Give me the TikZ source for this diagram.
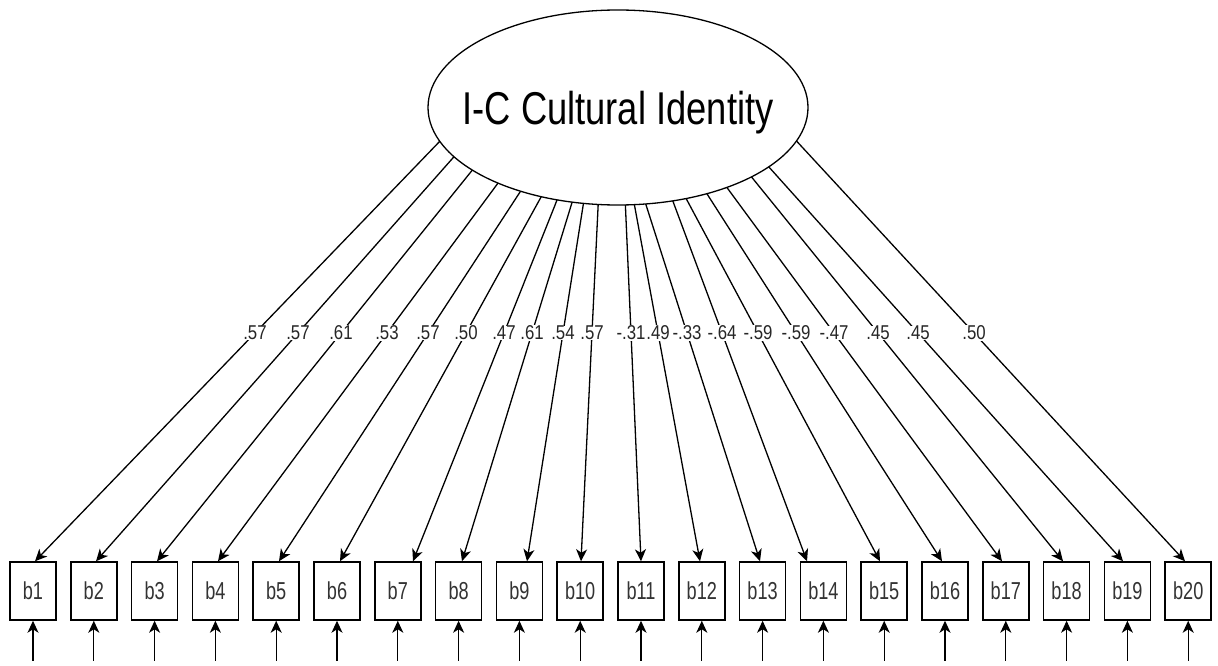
\documentclass[tikz,border=0pt]{standalone}
\usepackage{fontspec}
\setmainfont{Liberation Sans}
\newfontfamily\titlefont{Liberation Sans}[FakeStretch=0.79]
\newfontfamily\lblfont{Liberation Sans}[FakeStretch=0.84]
\newfontfamily\boxfont{Liberation Sans}[FakeStretch=0.74]
\usetikzlibrary{arrows.meta,shapes.geometric,intersections,calc}
\begin{document}
\begin{tikzpicture}[x=1pt,y=-1pt,
  latent/.style={ellipse, draw, line width=1.3pt, minimum width=380pt, minimum height=195pt,
    inner xsep=-40pt, inner ysep=0pt, text depth=0pt, font=\titlefont\fontsize{46}{46}\selectfont},
  obs/.style={rectangle, draw, line width=1.5pt, minimum width=46pt, minimum height=58pt,
    inner sep=0pt, text depth=0pt, text=black!80, font=\boxfont\fontsize{24.5}{25}\selectfont},
  load/.style={-{Stealth[length=12pt,width=11pt,inset=3.5pt]}, line width=1.3pt},
  coef/.style={fill=white, inner sep=0.6pt, text depth=0pt, text=black!85, font=\lblfont\fontsize{20}{20}\selectfont}
]
\useasboundingbox[fill=white] (0,0) rectangle (1218,666);
\node[latent, name path=ell] (E) at (618,107.5) {I-C Cultural Identity};
\foreach \i in {1,...,20} {
  \node[obs] (b\i) at ({33+60.8*(\i-1)}, 591) {b\i};
  \coordinate (e\i) at ($(b\i.south)+(0,40)$);
  \draw[load] (e\i) -- (b\i.south);
}
\foreach \i/\dx/\lx/\v in {1/2/255/.57, 2/2.2/298/.57, 3/2.4/341/.61, 4/2.6/387/.53, 5/2.8/428/.57,
  6/3/466/.50, 7/15.2/504/.47, 8/3.4/532/.61, 9/7.6/563/.54, 10/0.8/592/.57,
  11/0/631/-.31, 12/-1.8/658/.49, 13/-2.6/687/-.33, 14/-16.4/722/-.64, 15/-4.2/758/-.59,
  16/-3/796/-.59, 17/-3.8/834/-.47, 18/-3.6/878/.45, 19/-4.4/918/.45, 20/-3.2/974/.50} {
  \coordinate (t\i) at ($(b\i.north)+(\dx,0)$);
  \coordinate (l\i) at (\lx,333);
  \path[name path=ray\i] (t\i) -- ($(t\i)!1.9!(l\i)$);
  \path[name intersections={of=ell and ray\i, sort by=ray\i, by={s\i}}];
  \draw[load] (s\i) -- (t\i);
  \node[coef] (c\i) at (l\i) {\v};
}
\end{tikzpicture}
\end{document}
